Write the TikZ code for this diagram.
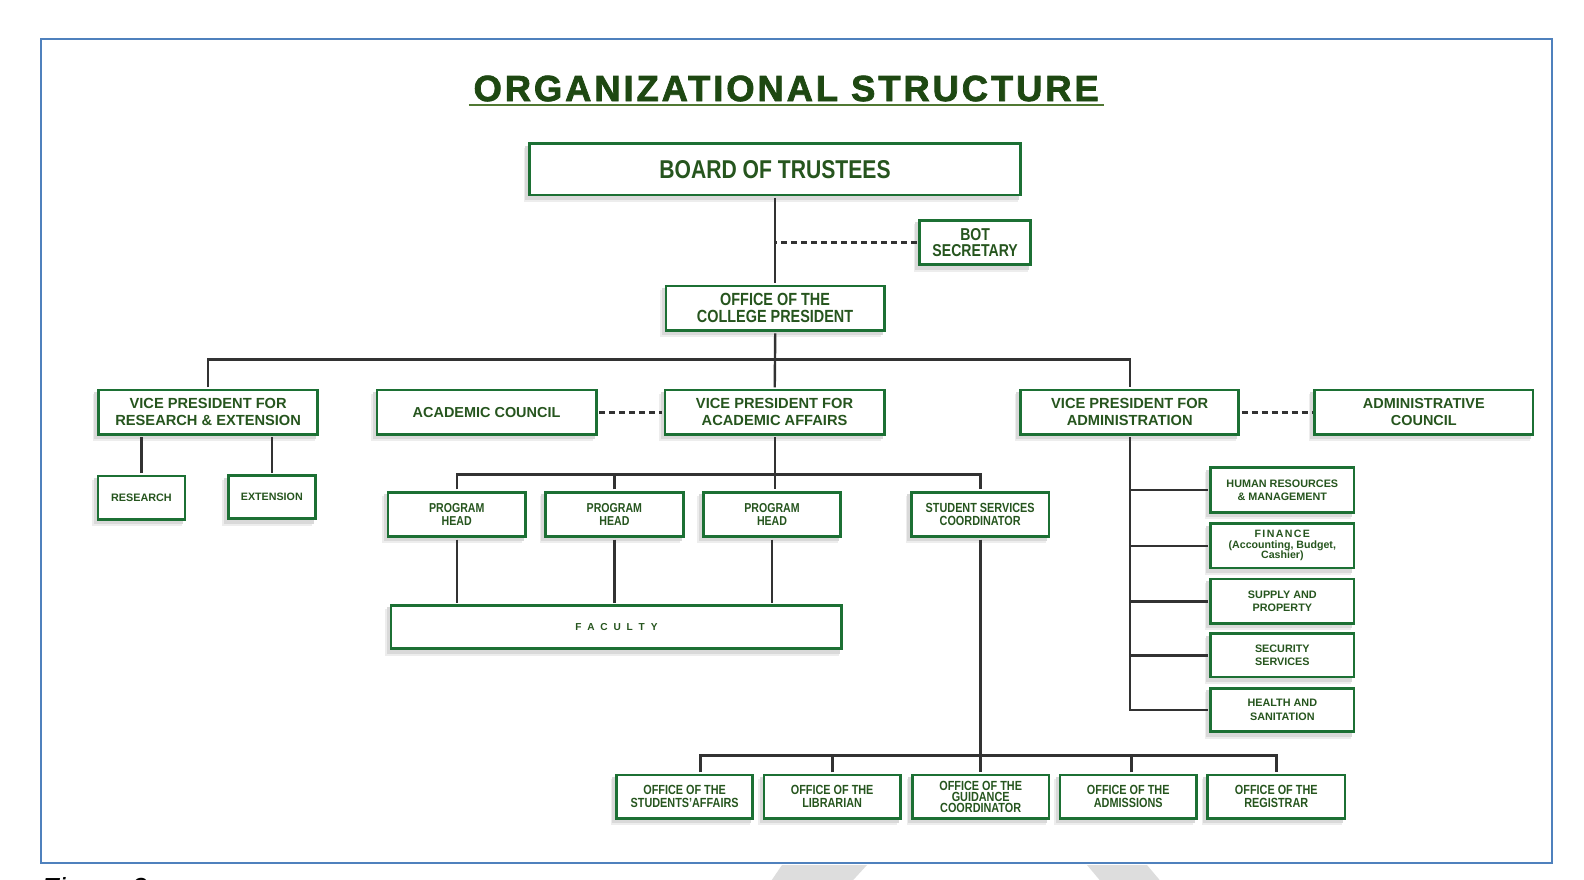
\documentclass[tikz,border=0pt]{standalone}
\usepackage{fontspec}
\setmainfont{Liberation Sans}
\newfontfamily\narf{Liberation Sans Bold}[FakeStretch=0.82]
\newfontfamily\regf{Liberation Sans Bold}
\newfontfamily\titlef{Liberation Sans Bold}[LetterSpace=8,FakeBold=2]
\newfontfamily\facf{Liberation Sans Bold}[LetterSpace=30]
\newfontfamily\finf{Liberation Sans Bold}[LetterSpace=13]
\newfontfamily\figf{Liberation Sans Italic}
\usetikzlibrary{shadows,backgrounds,calc}
\definecolor{boxgreen}{RGB}{28,112,52}
\definecolor{txtgreen}{RGB}{38,85,30}
\definecolor{titlegreen}{RGB}{30,72,18}
\definecolor{ulgreen}{RGB}{80,120,50}
\definecolor{linegray}{RGB}{50,50,50}
\definecolor{framecol}{RGB}{79,129,189}
\definecolor{wmgray}{RGB}{221,221,221}
\tikzset{
  box/.style={draw=boxgreen, line width=2.8pt, fill=white, text=txtgreen,
    align=center, inner sep=0pt,
    general shadow={fill=black!7, draw=black!7, line width=2.8pt, shadow xshift=-4.5pt, shadow yshift=-5.5pt},
    general shadow={fill=black!15, draw=black!15, line width=2.8pt, shadow xshift=-3pt, shadow yshift=-3.5pt}},
  conn/.style={draw=linegray, line width=2.4pt},
  dconn/.style={conn, dash pattern=on 6pt off 4pt},
  sa/.style={shorten <=1.4pt},
  sb/.style={shorten <=1.4pt, shorten >=1.4pt},
}
\begin{document}
\begin{tikzpicture}[x=1pt,y=-1pt]
\useasboundingbox (0,0) rectangle (1584,880);
\begin{pgfonlayer}{background}
\fill[white] (0,0) rectangle (1584,880);
\end{pgfonlayer}
\fill[wmgray] (782,865) -- (867,865) -- (844,890) -- (765,890) -- cycle;
\fill[wmgray] (1087,865) -- (1147,865) -- (1168,890) -- (1108,890) -- cycle;
\draw[framecol, line width=2.2pt] (41,39) rectangle (1552,863);
\node[anchor=base west, inner sep=0pt, font={\figf\fontsize{29}{30}\selectfont}] (fig) at (41,898) {Figure 2};

\begin{scope}[scale=1.0105, transform shape]
\node[anchor=base, inner sep=0pt, text=titlegreen, font={\titlef\fontsize{36}{40}\selectfont}] (title) at (778,100) {ORGANIZATIONAL STRUCTURE};
\draw[ulgreen, line width=2pt] (464,104) -- (1093,104);

\node[box, minimum width=486, minimum height=51, font={\narf\fontsize{25.5}{28}\selectfont}] (bot) at (767,167.5) {BOARD OF TRUSTEES};
\node[box, minimum width=110, minimum height=44, font={\narf\fontsize{17}{15.5}\selectfont}] (botsec) at (965,240) {BOT\\SECRETARY};
\node[box, minimum width=216, minimum height=44, font={\narf\fontsize{17.4}{17}\selectfont}] (ocp) at (767,305) {OFFICE OF THE\\COLLEGE PRESIDENT};

\node[box, minimum width=217, minimum height=44, font={\regf\fontsize{14.5}{17}\selectfont}] (vpre) at (206,408) {VICE PRESIDENT FOR\\RESEARCH \& EXTENSION};
\node[box, minimum width=217, minimum height=44, font={\regf\fontsize{14.3}{17}\selectfont}] (acc) at (481.5,408) {ACADEMIC COUNCIL};
\node[box, minimum width=217, minimum height=44, font={\regf\fontsize{14.5}{17}\selectfont}] (vpaa) at (766.5,408) {VICE PRESIDENT FOR\\ACADEMIC AFFAIRS};
\node[box, minimum width=216, minimum height=44, font={\regf\fontsize{14.5}{17}\selectfont}] (vpad) at (1118,408) {VICE PRESIDENT FOR\\ADMINISTRATION};
\node[box, minimum width=216, minimum height=44, font={\regf\fontsize{14.3}{17}\selectfont}] (adc) at (1409,408) {ADMINISTRATIVE\\COUNCIL};

\node[box, minimum width=86, minimum height=43, font={\regf\fontsize{10.7}{13}\selectfont}] (res) at (140,492.5) {RESEARCH};
\node[box, minimum width=86, minimum height=43, font={\regf\fontsize{10.6}{13}\selectfont}] (ext) at (269,492) {EXTENSION};

\node[box, minimum width=136, minimum height=44, font={\narf\fontsize{12.8}{13}\selectfont}] (ph1) at (452,509) {PROGRAM\\HEAD};
\node[box, minimum width=136, minimum height=44, font={\narf\fontsize{12.8}{13}\selectfont}] (ph2) at (608,509) {PROGRAM\\HEAD};
\node[box, minimum width=136, minimum height=44, font={\narf\fontsize{12.8}{13}\selectfont}] (ph3) at (764,509) {PROGRAM\\HEAD};
\node[box, minimum width=136, minimum height=44, font={\narf\fontsize{13.1}{13}\selectfont}] (ssc) at (970,509) {STUDENT SERVICES\\COORDINATOR};

\node[box, minimum width=446, minimum height=43, font={\facf\fontsize{10}{12}\selectfont}] (fac) at (610,620.5) {F A C U L T Y};

\node[box, minimum width=135, minimum height=43, font={\narf\fontsize{13.1}{13}\selectfont}] (sa) at (677.5,788.5) {OFFICE OF THE\\STUDENTS’AFFAIRS};
\node[box, minimum width=135, minimum height=43, font={\narf\fontsize{13.1}{13}\selectfont}] (lib) at (823.5,788.5) {OFFICE OF THE\\LIBRARIAN};
\node[box, minimum width=135, minimum height=43, font={\narf\fontsize{13.1}{10.8}\selectfont}] (guid) at (970.5,788.5) {OFFICE OF THE\\GUIDANCE\\COORDINATOR};
\node[box, minimum width=135, minimum height=43, font={\narf\fontsize{13.1}{13}\selectfont}] (adm) at (1116.5,788.5) {OFFICE OF THE\\ADMISSIONS};
\node[box, minimum width=136, minimum height=43, font={\narf\fontsize{13.1}{13}\selectfont}] (reg) at (1263,788.5) {OFFICE OF THE\\REGISTRAR};

\node[box, minimum width=142, minimum height=44, font={\regf\fontsize{10.7}{13}\selectfont}] (hr) at (1269,485) {HUMAN RESOURCES\\\& MANAGEMENT};
\node[box, minimum width=142, minimum height=44, font={\regf\fontsize{10.5}{10.5}\selectfont}] (fin) at (1269,540) {{\finf FINANCE}\\(Accounting, Budget,\\Cashier)};
\node[box, minimum width=142, minimum height=44, font={\regf\fontsize{10.7}{13}\selectfont}] (sup) at (1269,595) {SUPPLY AND\\PROPERTY};
\node[box, minimum width=142, minimum height=43, font={\regf\fontsize{10.7}{13}\selectfont}] (sec) at (1269,648.5) {SECURITY\\SERVICES};
\node[box, minimum width=142, minimum height=43, font={\regf\fontsize{10.7}{13}\selectfont}] (hlth) at (1269,702.5) {HEALTH AND\\SANITATION};

\draw[conn, sb] (bot.south) -- (ocp.north);
\draw[dconn, sa] (botsec.west) -- (botsec.west -| bot.south);
\draw[conn, sb] (ocp.south) -- (vpaa.north);
\draw[conn, sb] (vpre.north) -- ++(0,-29) -| (vpad.north);
\draw[dconn, sb] (acc.east) -- (vpaa.west);
\draw[dconn, sb] (vpad.east) -- (adc.west);
\draw[conn, sb] (res.north) -- (res.north |- vpre.south);
\draw[conn, sb] (ext.north) -- (ext.north |- vpre.south);
\draw[conn, sb] (vpaa.south) -- (vpaa.south |- ph3.north);
\draw[conn, sb] (ph1.north) -- ++(0,-16) -| (ssc.north);
\draw[conn, sa] (ph2.north) -- ++(0,-16);
\draw[conn, sb] (ph1.south) -- (ph1.south |- fac.north);
\draw[conn, sb] (ph2.south) -- (ph2.south |- fac.north);
\draw[conn, sb] (ph3.south) -- (ph3.south |- fac.north);
\draw[conn, sb] (ssc.south) -- (ssc.south |- guid.north);
\draw[conn, sb] ([xshift=15.5pt]sa.north) -- ++(0,-18) -| (reg.north);
\draw[conn, sa] (lib.north) -- ++(0,-18);
\draw[conn, sa] ([xshift=3pt]adm.north) -- ++(0,-18);
\draw[conn, sb] (vpad.south) |- (hlth.west);
\foreach \n in {hr,fin,sup,sec} \draw[conn, sa] (\n.west) -- (\n.west -| vpad.south);
\end{scope}
\end{tikzpicture}
\end{document}
